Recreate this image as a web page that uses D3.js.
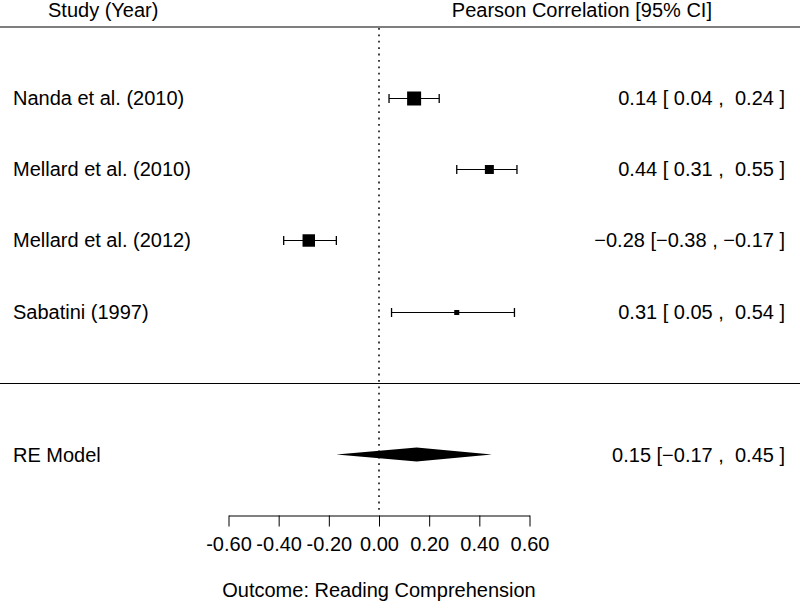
<!DOCTYPE html>
<html>
<head>
<meta charset="utf-8">
<script src="https://cdn.jsdelivr.net/npm/d3@7"></script>
<style>
  html, body { margin: 0; padding: 0; background: #fff; }
  svg { display: block; }
  text { font-family: "Liberation Sans", Arial, sans-serif; fill: #000; white-space: pre; }
</style>
</head>
<body>
<svg id="chart" width="800" height="603"></svg>
<script>
// ---- data ----
const studies = ["Nanda et al. (2010)", "Mellard et al. (2010)", "Mellard et al. (2012)", "Sabatini (1997)"];
const estimates = [0.14, 0.44, -0.28, 0.31];
const lower = [0.04, 0.31, -0.38, 0.05];
const upper = [0.24, 0.55, -0.17, 0.54];
const relWeight = [1.0, 0.64, 0.89, 0.36];   // relative study weight (marker size)
const summaryLabel = "RE Model";
const summaryEst = 0.15, summaryLower = -0.17, summaryUpper = 0.45;
const tickValues = [-0.6, -0.4, -0.2, 0, 0.2, 0.4, 0.6];
const headerLeft = "Study (Year)";
const headerRight = "Pearson Correlation [95% CI]";
const axisTitle = "Outcome: Reading Comprehension";

// ---- layout ----
const W = 800, H = 603;
const svg = d3.select("#chart");
const x = d3.scaleLinear().domain([-0.6, 0.6]).range([228.5, 529.5]);
const rowIdx = studies.map((d, i) => i);
const y = d3.scaleLinear().domain([0, 5]).range([97.5, 454.5]);
const sizeScale = d3.scaleLinear().domain([0, 1]).range([0, 14]);
const fs = 20;

const fmt = v => (v < 0 ? "\u2212" : "\u00A0") + Math.abs(v).toFixed(2);
const fmtEst = v => (v < 0 ? "\u2212" : "") + Math.abs(v).toFixed(2);
const annot = (e, l, u) => fmtEst(e) + " [" + fmt(l) + " ,\u00A0" + fmt(u) + " ]";

// header
svg.append("text").attr("x", 48).attr("y", 17).attr("font-size", fs).text(headerLeft);
svg.append("text").attr("x", 712).attr("y", 17).attr("text-anchor", "end").attr("font-size", fs).text(headerRight);

// horizontal rules
svg.append("line").attr("x1", 0).attr("x2", W).attr("y1", 27).attr("y2", 27)
  .attr("stroke", "#000").attr("stroke-width", 1.1);
svg.append("line").attr("x1", 0).attr("x2", W).attr("y1", 383.5).attr("y2", 383.5)
  .attr("stroke", "#000").attr("stroke-width", 1);

// zero reference line
svg.append("line").attr("x1", x(0)).attr("x2", x(0)).attr("y1", 28).attr("y2", 512)
  .attr("stroke", "#000").attr("stroke-width", 1.5).attr("stroke-dasharray", "1.8,4.6");

// study rows
const g = svg.append("g");
rowIdx.forEach(i => {
  const cy = Math.round(y(i)) + 0.5;
  g.append("line").attr("x1", x(lower[i])).attr("x2", x(upper[i])).attr("y1", cy).attr("y2", cy)
    .attr("stroke", "#000").attr("stroke-width", 1.1);
  [lower[i], upper[i]].forEach(v => {
    g.append("line").attr("x1", x(v)).attr("x2", x(v)).attr("y1", cy - 4.5).attr("y2", cy + 4.5)
      .attr("stroke", "#000").attr("stroke-width", 1.3);
  });
  const s = sizeScale(relWeight[i]);
  g.append("rect").attr("x", x(estimates[i]) - s / 2).attr("y", cy - s / 2)
    .attr("width", s).attr("height", s).attr("fill", "#000");
  g.append("text").attr("x", 13).attr("y", y(i)).attr("dy", "0.35em").attr("font-size", fs).text(studies[i]);
  g.append("text").attr("x", 785).attr("y", y(i)).attr("dy", "0.35em").attr("text-anchor", "end")
    .attr("xml:space", "preserve")
    .attr("font-size", fs).text(annot(estimates[i], lower[i], upper[i]));
});

// summary diamond
const sy = y(5);
svg.append("polygon")
  .attr("points", [
    [x(summaryLower), sy], [x(summaryEst), sy - 7], [x(summaryUpper), sy], [x(summaryEst), sy + 7]
  ].map(p => p.join(",")).join(" "))
  .attr("fill", "#000");
svg.append("text").attr("x", 13).attr("y", sy).attr("dy", "0.35em").attr("font-size", fs).text(summaryLabel);
svg.append("text").attr("x", 785).attr("y", sy).attr("dy", "0.35em").attr("text-anchor", "end")
  .attr("xml:space", "preserve")
  .attr("font-size", fs).text(annot(summaryEst, summaryLower, summaryUpper));

// x axis
const axis = d3.axisBottom(x).tickValues(tickValues).tickSize(11).tickSizeOuter(0).tickPadding(10)
  .tickFormat(d => d.toFixed(2));
const ax = svg.append("g").attr("transform", "translate(0,515.5)").call(axis);
ax.select(".domain").attr("stroke", "#000").attr("stroke-width", 1);
ax.selectAll(".tick line").attr("stroke", "#000").attr("stroke-width", 1);
ax.selectAll(".tick text").attr("font-size", 20).attr("font-family", "Liberation Sans, Arial, sans-serif").attr("fill", "#000");

// axis title
svg.append("text").attr("x", x(0)).attr("y", 597).attr("text-anchor", "middle").attr("font-size", fs).text(axisTitle);
</script>
</body>
</html>
